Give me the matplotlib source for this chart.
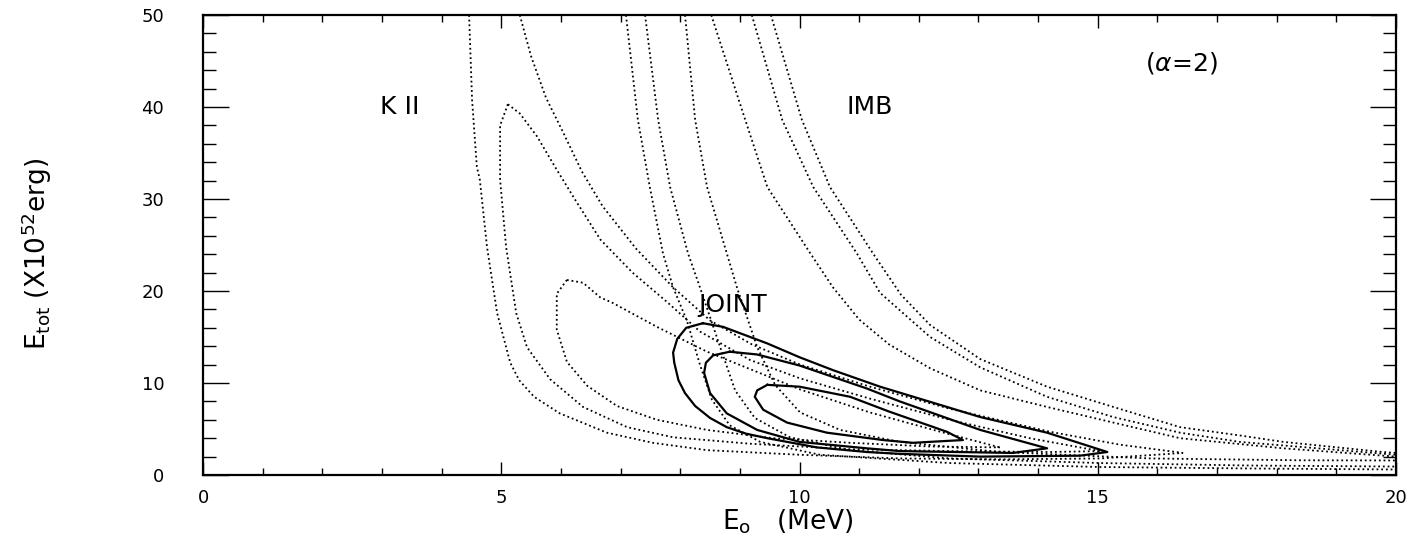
import matplotlib
matplotlib.use("Agg")
import matplotlib.pyplot as plt
from matplotlib.ticker import MultipleLocator

# ---- contour data (E0 in MeV, Etot in 1e52 erg) ----

# KII likelihood contours (dotted): lower/left edge and upper/right edge
kii_outer_lo_e = [4.46, 4.51, 4.59, 4.64, 4.76, 4.93, 5.15, 5.30, 5.55, 5.98, 6.77, 7.54, 8.45, 10.01, 11.68, 13.36, 15.04, 16.43]
kii_outer_lo_t = [50.0, 40.8, 33.5, 32.1, 24.8, 17.6, 12.2, 10.3, 8.5, 6.7, 4.6, 3.5, 2.7, 2.2, 1.8, 1.7, 1.8, 2.4]
kii_outer_up_e = [5.31, 5.50, 5.75, 6.04, 6.35, 6.70, 7.26, 7.88, 8.50, 9.20, 10.01, 11.18, 12.52, 14.20, 15.37, 16.43]
kii_outer_up_t = [50.0, 45.5, 41.0, 37.2, 33.0, 29.2, 24.6, 20.4, 16.8, 14.2, 12.0, 9.6, 7.2, 4.7, 3.3, 2.4]

kii_mid_lo_e = [5.11, 4.98, 4.98, 5.08, 5.25, 5.43, 5.82, 6.37, 7.11, 7.88, 9.17, 10.85, 12.52, 14.20, 15.04]
kii_mid_lo_t = [40.3, 38.0, 32.1, 24.8, 17.6, 13.9, 10.4, 7.4, 5.2, 4.1, 3.4, 2.8, 2.6, 2.5, 2.6]
kii_mid_up_e = [5.11, 5.31, 5.60, 5.90, 6.24, 6.66, 7.20, 7.78, 8.33, 9.17, 10.01, 11.18, 12.52, 13.86, 15.04]
kii_mid_up_t = [40.3, 39.3, 36.8, 33.5, 29.9, 25.6, 22.0, 18.8, 15.6, 12.5, 10.5, 8.3, 6.0, 4.0, 2.6]

kii_in_lo_e = [6.10, 5.93, 5.93, 6.10, 6.44, 6.94, 7.61, 8.45, 9.56, 10.85, 12.19, 13.36]
kii_in_lo_t = [21.2, 19.7, 15.8, 12.3, 9.7, 7.5, 6.0, 4.9, 4.0, 3.5, 3.1, 3.0]
kii_in_up_e = [6.10, 6.37, 6.66, 6.87, 7.61, 8.45, 9.29, 10.01, 11.18, 12.36, 13.36]
kii_in_up_t = [21.2, 20.9, 19.3, 18.7, 16.1, 13.4, 11.2, 9.3, 6.8, 4.7, 3.0]

# IMB likelihood contours (dotted): left/bottom branch and right/upper branch
imb_outer_l_e = [7.09, 7.29, 7.49, 7.71, 7.88, 8.11, 8.33, 8.53, 8.83, 9.34, 10.34, 12.52, 15.04, 17.55, 20.0]
imb_outer_l_t = [50.0, 38.6, 31.3, 24.1, 20.4, 16.8, 12.0, 8.2, 5.4, 3.6, 2.2, 1.3, 0.87, 0.71, 0.6]
imb_outer_r_e = [9.52, 10.04, 10.51, 11.23, 11.70, 12.19, 13.03, 14.15, 15.26, 16.38, 17.38, 18.11, 19.78, 20.0]
imb_outer_r_t = [50.0, 38.6, 31.3, 24.1, 19.6, 16.3, 12.6, 9.6, 7.4, 5.2, 4.3, 3.6, 2.5, 2.4]

imb_mid_l_e = [7.41, 7.63, 7.83, 8.13, 8.33, 8.67, 8.92, 9.25, 9.84, 10.85, 12.52, 15.04, 17.55, 20.0]
imb_mid_l_t = [50.0, 38.6, 31.3, 24.1, 20.4, 13.9, 9.2, 6.2, 4.1, 2.7, 1.8, 1.3, 1.03, 0.92]
imb_mid_r_e = [9.20, 9.71, 10.23, 10.96, 11.35, 12.19, 13.03, 14.15, 15.26, 16.38, 17.38, 20.0]
imb_mid_r_t = [50.0, 38.6, 31.3, 24.1, 19.8, 15.0, 11.7, 8.5, 6.3, 4.6, 3.6, 2.2]

imb_in_l_e = [8.08, 8.25, 8.45, 8.78, 8.95, 9.29, 9.59, 10.01, 10.68, 11.68, 13.36, 15.88, 18.39, 20.0]
imb_in_l_t = [50.0, 38.6, 31.3, 24.1, 20.4, 13.9, 9.8, 6.8, 4.9, 3.6, 2.5, 1.8, 1.6, 1.58]
imb_in_r_e = [8.52, 9.09, 9.46, 10.18, 10.56, 11.00, 11.50, 12.19, 13.03, 14.15, 15.26, 16.38, 18.11, 20.0]
imb_in_r_t = [50.0, 38.6, 31.3, 24.1, 20.4, 16.9, 14.2, 11.6, 9.2, 7.4, 5.7, 4.0, 2.9, 2.0]

# JOINT contours (solid, closed)
joint_outer_e = [8.38, 8.10, 7.95, 7.88, 7.90, 7.97, 8.08, 8.25, 8.50, 8.78, 9.10, 9.46, 10.29, 11.13, 11.68,
                 13.03, 14.70, 15.16, 14.15, 13.03, 11.35, 10.56, 10.00, 9.46, 8.72, 8.38]
joint_outer_t = [16.5, 16.0, 14.8, 13.3, 12.2, 10.3, 8.9, 7.5, 6.2, 5.2, 4.5, 4.0, 3.0, 2.5, 2.3,
                 2.0, 2.1, 2.5, 4.6, 6.3, 9.6, 11.4, 12.8, 14.3, 16.1, 16.5]
joint_mid_e = [8.83, 8.55, 8.43, 8.40, 8.50, 8.78, 9.29, 10.00, 11.13, 11.68, 13.58, 14.15,
               13.03, 11.68, 11.13, 10.00, 9.29, 8.83]
joint_mid_t = [13.4, 13.0, 12.2, 11.1, 8.9, 6.7, 4.9, 3.6, 2.9, 2.6, 2.4, 2.9,
               4.9, 8.0, 9.4, 11.9, 13.1, 13.4]
joint_in_e = [9.46, 9.29, 9.25, 9.39, 9.79, 10.46, 11.40, 11.90, 12.74, 12.47, 11.50, 10.85, 10.00, 9.46]
joint_in_t = [9.8, 9.2, 8.5, 7.1, 5.7, 4.6, 3.8, 3.5, 3.8, 4.7, 6.9, 8.5, 9.6, 9.8]

# ---- figure ----
fig = plt.figure(figsize=(14.18, 5.42), dpi=100)
ax = fig.add_axes([0.1432, 0.1236, 0.8413, 0.8487])

dot = dict(color="black", lw=1.3, linestyle=(0, (1, 1.6)))
for e, t in [(kii_outer_lo_e, kii_outer_lo_t), (kii_outer_up_e, kii_outer_up_t),
             (kii_mid_lo_e, kii_mid_lo_t), (kii_mid_up_e, kii_mid_up_t),
             (kii_in_lo_e, kii_in_lo_t), (kii_in_up_e, kii_in_up_t),
             (imb_outer_l_e, imb_outer_l_t), (imb_outer_r_e, imb_outer_r_t),
             (imb_mid_l_e, imb_mid_l_t), (imb_mid_r_e, imb_mid_r_t),
             (imb_in_l_e, imb_in_l_t), (imb_in_r_e, imb_in_r_t)]:
    ax.plot(e, t, **dot)

for e, t in [(joint_outer_e, joint_outer_t), (joint_mid_e, joint_mid_t), (joint_in_e, joint_in_t)]:
    ax.plot(e, t, color="black", lw=1.6, solid_joinstyle="round")

ax.set_xlim(0, 20)
ax.set_ylim(0, 50)
ax.set_xticks([0, 5, 10, 15, 20])
ax.set_yticks([0, 10, 20, 30, 40, 50])
ax.xaxis.set_minor_locator(MultipleLocator(1))
ax.yaxis.set_minor_locator(MultipleLocator(2))
ax.tick_params(which="both", direction="in", top=True, right=True, width=1.0, labelsize=13)
ax.tick_params(axis="x", which="major", length=9.4, pad=10)
ax.tick_params(axis="x", which="minor", length=5)
ax.tick_params(axis="y", which="major", length=18.7, pad=28)
ax.tick_params(axis="y", which="minor", length=9.4)
for s in ax.spines.values():
    s.set_linewidth(1.6)

ax.set_xlabel(r"E$_\mathregular{o}$   (MeV)", fontsize=19)
ax.xaxis.set_label_coords(0.49, -0.07)
ax.set_ylabel(r"E$_\mathregular{tot}$ (X10$^\mathregular{52}$erg)", fontsize=19)
ax.yaxis.set_label_coords(-0.125, 0.48)

ax.text(3.3, 40, "K II", fontsize=18, ha="center", va="center")
ax.text(11.18, 40, "IMB", fontsize=18, ha="center", va="center")
ax.text(8.87, 18.5, "JOINT", fontsize=18, ha="center", va="center")
ax.text(16.4, 44.8, r"($\alpha$=2)", fontsize=18, ha="center", va="center")

fig.savefig("out.png", dpi=100)
